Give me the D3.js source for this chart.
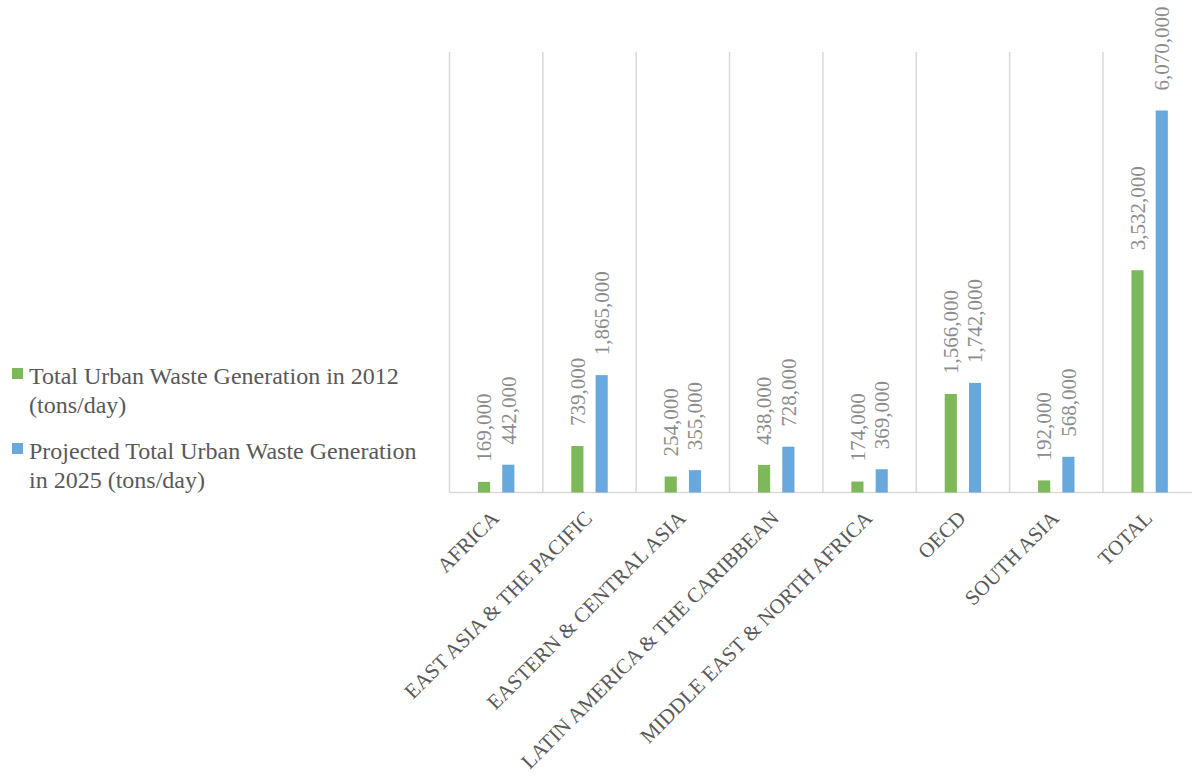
<!DOCTYPE html>
<html>
<head>
<meta charset="utf-8">
<script src="https://cdn.jsdelivr.net/npm/d3@7"></script>
<style>
  body { margin: 0; background: #fff; }
  svg { font-family: "Liberation Serif", "Times New Roman", serif; }
</style>
</head>
<body>
<div id="chart"></div>
<script>
// categories and series values
const categories = ["AFRICA", "EAST ASIA & THE PACIFIC", "EASTERN & CENTRAL ASIA",
    "LATIN AMERICA & THE CARIBBEAN", "MIDDLE EAST & NORTH AFRICA", "OECD", "SOUTH ASIA", "TOTAL"];
const waste2012 = [169000, 739000, 254000, 438000, 174000, 1566000, 192000, 3532000];
const waste2025 = [442000, 1865000, 355000, 728000, 369000, 1742000, 568000, 6070000];
const seriesNames = [
    ["Total Urban Waste Generation in 2012", "(tons/day)"],
    ["Projected Total Urban Waste Generation", "in 2025 (tons/day)"]
];

const width = 1192, height = 776;
const colors = ["#7db85a", "#68a8dc"];

const svg = d3.select("#chart")
    .append("svg")
    .attr("width", width)
    .attr("height", height);

// plot area
const plotLeft = 449.5, plotTop = 52, baseline = 492.5;
const band = 93.35;

const xScale = d3.scaleBand()
    .domain(categories)
    .range([plotLeft, plotLeft + band * categories.length])
    .paddingInner(0)
    .paddingOuter(0);

const yScale = d3.scaleLinear()
    .domain([0, 7000000])
    .range([baseline, plotTop]);

// vertical gridlines at category boundaries
const bounds = categories.map(c => xScale(c)).concat([xScale.range()[1]]);
svg.selectAll(".grid")
    .data(bounds)
    .enter()
    .append("line")
    .attr("x1", d => d)
    .attr("x2", d => d)
    .attr("y1", plotTop)
    .attr("y2", baseline)
    .attr("stroke", "#d9d9d9")
    .attr("stroke-width", 1.5);

// baseline
svg.append("line")
    .attr("x1", plotLeft)
    .attr("x2", xScale.range()[1])
    .attr("y1", baseline)
    .attr("y2", baseline)
    .attr("stroke", "#d9d9d9")
    .attr("stroke-width", 1.5);

const barW = xScale.bandwidth() * 0.13;
const series = [waste2012, waste2025];

series.forEach((vals, si) => {
    const rows = categories.map((c, i) => ({ cat: c, value: vals[i] }));
    const cx = d => xScale(d.cat) + xScale.bandwidth() / 2 + (si === 0 ? -barW : barW);

    svg.selectAll(".bar" + si)
        .data(rows)
        .enter()
        .append("rect")
        .attr("x", d => cx(d) - barW / 2)
        .attr("y", d => yScale(d.value))
        .attr("width", barW)
        .attr("height", d => baseline - yScale(d.value))
        .attr("fill", colors[si]);

    // rotated data labels
    svg.selectAll(".lbl" + si)
        .data(rows)
        .enter()
        .append("text")
        .attr("transform", d => `translate(${cx(d)},${yScale(d.value) - 20}) rotate(-90)`)
        .attr("dy", "0.35em")
        .attr("text-anchor", "start")
        .attr("fill", "#8c8c8c")
        .style("font-size", "21px")
        .text(d => d3.format(",")(d.value));
});

// category labels, rotated -45
svg.selectAll(".cat")
    .data(categories)
    .enter()
    .append("text")
    .attr("transform", d => `translate(${xScale(d) + xScale.bandwidth() / 2 + 4},${baseline + 27}) rotate(-45)`)
    .attr("text-anchor", "end")
    .attr("fill", "#595959")
    .style("font-size", "21px")
    .text(d => d);

// legend
const legendTop = [368, 443];
seriesNames.forEach((lines, i) => {
    svg.append("rect")
        .attr("x", 12)
        .attr("y", legendTop[i])
        .attr("width", 11)
        .attr("height", 11)
        .attr("fill", colors[i]);
    const t = svg.append("text")
        .attr("x", 29)
        .attr("y", legendTop[i] + 16)
        .attr("fill", "#595959")
        .style("font-size", "24px");
    lines.forEach((ln, j) => {
        t.append("tspan")
            .attr("x", 29)
            .attr("dy", j === 0 ? 0 : 29)
            .text(ln);
    });
});
</script>
</body>
</html>
